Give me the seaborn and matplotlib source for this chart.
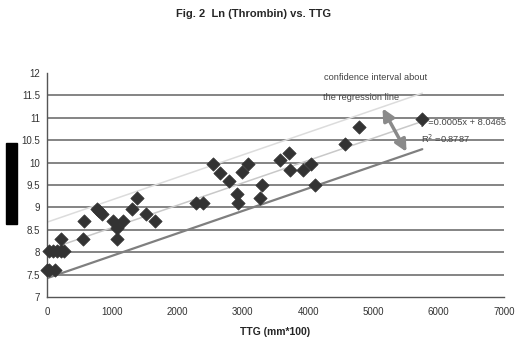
import pandas as pd
import seaborn as sns
import matplotlib.pyplot as plt
from matplotlib.patches import Rectangle

# TTG (mm*100) and Ln(Thrombin)
ttg = [0, 30, 120, 35, 96, 158, 219, 260, 210, 545, 565, 760, 800, 850,
       1005, 1075, 1065, 1160, 1300, 1375, 1515, 1660, 2280, 2385, 2905,
       2920, 3260, 3300, 2545, 2650, 2790, 2980, 3085, 3570, 3710, 3730,
       3915, 4040, 4100, 4560, 4785, 5750]
ln_thrombin = [7.6, 7.6, 7.6, 8.03, 8.03, 8.03, 8.03, 8.03, 8.3, 8.3, 8.7,
               8.97, 8.92, 8.85, 8.7, 8.53, 8.3, 8.7, 8.97, 9.22, 8.85, 8.7,
               9.1, 9.1, 9.3, 9.1, 9.22, 9.5, 9.97, 9.77, 9.6, 9.8, 9.97,
               10.06, 10.22, 9.84, 9.84, 9.97, 9.5, 10.41, 10.8, 10.98]

# regression line and confidence band end points
line_x = [0, 5750]
reg_y = [8.05, 10.92]
upper_y = [8.67, 11.55]
lower_y = [7.42, 10.3]

x_ticks = [0, 1000, 2000, 3000, 4000, 5000, 6000, 7000]
y_ticks = [7, 7.5, 8, 8.5, 9, 9.5, 10, 10.5, 11, 11.5, 12]
y_tick_labels = ["7", "7.5", "8", "8.5", "9", "9.5", "10", "10.5", "11", "11.5", "12"]

sns.set_style("white")
plt.rcParams["font.family"] = ["Liberation Sans", "DejaVu Sans"]

df = pd.DataFrame({"ttg": ttg, "ln": ln_thrombin})

fig = plt.figure(figsize=(5.2, 3.42), dpi=100)
ax = fig.add_axes([0.0904, 0.1316, 0.8786, 0.6549])

ax.plot(line_x, upper_y, color="#dcdcdc", lw=1.1, zorder=2)
ax.plot(line_x, reg_y, color="#c8c8c8", lw=1.1, zorder=2)
ax.plot(line_x, lower_y, color="#7f7f7f", lw=1.6, zorder=2)

sns.scatterplot(data=df, x="ttg", y="ln", marker="D", s=46, color="#333333",
                edgecolor="#333333", linewidth=0.5, ax=ax, zorder=5)
ax.collections[-1].set_clip_on(False)

ax.set_xlim(0, 7000)
ax.set_ylim(7, 12)
ax.set_xticks(x_ticks)
ax.set_yticks(y_ticks)
ax.set_yticklabels(y_tick_labels)
ax.yaxis.grid(True, color="#707070", lw=1.2)
ax.get_ygridlines()[-1].set_visible(False)
ax.get_ygridlines()[0].set_visible(False)
ax.set_axisbelow(True)

for side in ["top", "right"]:
    ax.spines[side].set_visible(False)
for side in ["left", "bottom"]:
    ax.spines[side].set_color("#555555")
    ax.spines[side].set_linewidth(1.0)

ax.tick_params(axis="both", labelsize=7, colors="#333333", length=3, width=0.8)
ax.tick_params(axis="x", direction="inout", pad=6)
ax.tick_params(axis="y", direction="out", pad=2)

ax.set_xlabel("TTG (mm*100)", fontsize=7.5, fontweight="bold", labelpad=7)
ax.set_ylabel("")

ax.annotate("", xy=(5141, 11.21), xytext=(5508, 10.24),
            arrowprops=dict(arrowstyle="<|-|>,head_length=0.7,head_width=0.35",
                            color="#8a8a8a", lw=2.5, shrinkA=0, shrinkB=0),
            zorder=6)

ax.text(4242, 11.89, "confidence interval about", fontsize=6.7,
        color="#444444", va="center", ha="left")
ax.text(4230, 11.46, "the regression line", fontsize=6.7,
        color="#444444", va="center", ha="left")
ax.text(5735, 10.9, "y =0.0005x + 8.0465", fontsize=6.7,
        color="#444444", va="center", ha="left", zorder=4)
ax.text(5723, 10.53, "R$^2$ =0.8787", fontsize=6.7,
        color="#444444", va="center", ha="left")

fig.text(0.487, 0.958, "Fig. 2  Ln (Thrombin) vs. TTG", fontsize=8,
         fontweight="bold", ha="center", va="center")

fig.patches.append(Rectangle((0.0115, 0.345), 0.021, 0.237,
                             transform=fig.transFigure, color="black"))

fig.savefig("out.png", dpi=100)
